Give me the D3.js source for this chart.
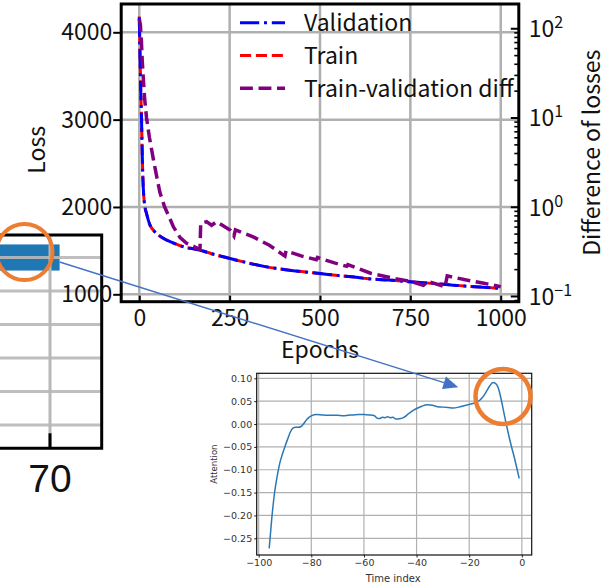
<!DOCTYPE html>
<html><head><meta charset="utf-8">
<script src="https://cdn.jsdelivr.net/npm/d3@7"></script>
<style>body{margin:0;background:#fff}svg{display:block}</style>
</head><body>
<svg id="c" width="611" height="586"></svg>
<script>
// ---------- training curves ----------
const epochs =         [0,    2,    4,    6,    8,    10,   12,   15,   20,   25,   30,   39,   55,   76,   100,  122,  150,  168,  200,  251,  300,  352,  400,  450,  500,  550,  600,  629,  700,  749,  800,  869,  900,  950,  1000];
const validationLoss = [4170, 3750, 3350, 3050, 2650, 2330, 2150, 2020, 1926, 1850, 1790, 1735, 1672, 1620, 1578, 1544, 1520, 1505, 1465, 1410, 1360, 1314, 1285, 1260, 1238, 1215, 1195, 1180, 1160, 1143, 1128, 1105, 1095, 1082, 1068];
const trainLoss =      [4180, 3760, 3355, 3052, 2652, 2331, 2151, 2020, 1926, 1850, 1790, 1735, 1672, 1620, 1578, 1544, 1520, 1505, 1465, 1410, 1360, 1314, 1285, 1260, 1238, 1215, 1195, 1180, 1160, 1143, 1128, 1105, 1095, 1082, 1068];
const diffEpochs = [0,   3,   6,  8,  11, 15, 20, 28, 39,  48,  57,   70,  82,   94,  113,  131,  150,  165,   168,   170,  186,  200,  214,  251,  262,  266,  315,  360,  403,  406,  450,  490,   493,  540,   574,   577,   640,  703,   750,   786,   800,   846,   852,   905,   950,  1000];
const diffValues = [127, 110, 70, 45, 28, 16, 10, 6,  3.4, 2.2, 1.45, 1.0, 0.78, 0.6, 0.45, 0.39, 0.36, 0.335, 0.335, 0.65, 0.68, 0.62, 0.68, 0.55, 0.47, 0.55, 0.46, 0.37, 0.28, 0.32, 0.28, 0.255, 0.27, 0.235, 0.215, 0.225, 0.18, 0.158, 0.146, 0.132, 0.145, 0.127, 0.168, 0.151, 0.14, 0.127];
const lossTicks = [1000, 2000, 3000, 4000];
const epochTicks = [0, 250, 500, 750, 1000];
const diffTicks = [0.1, 1, 10, 100];

// ---------- attention profile ----------
const timeIndex = [-96,-95,-94,-93,-92,-91,-90,-89,-88,-87,-86,-85,-84,-83,-82,-81,-80,-78,-76,-74,-72,-70,-68,-66,-64,-62,-60,-58,-56,-55,-54,-53,-52,-51,-50,-49,-48,-47,-46,-45,-44,-43,-42,-41,-40,-38,-36,-34,-32,-30,-28,-26,-24,-22,-20,-18,-17,-16,-15,-14,-13,-12,-11,-10,-9,-8,-7,-6,-5,-4,-3,-2,-1];
const attention = [-0.272,-0.205,-0.152,-0.115,-0.086,-0.066,-0.049,-0.033,-0.018,-0.009,-0.007,-0.007,-0.006,0.000,0.008,0.014,0.018,0.021,0.020,0.019,0.019,0.019,0.018,0.019,0.020,0.021,0.021,0.020,0.018,0.013,0.012,0.015,0.014,0.016,0.014,0.015,0.011,0.011,0.012,0.014,0.018,0.023,0.027,0.031,0.034,0.039,0.042,0.041,0.038,0.037,0.036,0.035,0.037,0.040,0.043,0.046,0.049,0.052,0.058,0.066,0.076,0.085,0.091,0.089,0.080,0.058,0.030,0.002,-0.024,-0.048,-0.070,-0.094,-0.119];
const attnXTicks = [-100, -80, -60, -40, -20, 0];
const attnYTicks = [0.10, 0.05, 0.00, -0.05, -0.10, -0.15, -0.20, -0.25];

// ---------- ranking bars ----------
const rankRows = [0, 1, 2, 3, 4, 5];
const rankValues = [71.6];
const rankTicks = [70];

const svg = d3.select("#c");
const MAIN_FONT = "'Noto Sans CJK JP','Noto Sans',sans-serif";
const GRID = "#b0b0b0";

// ================= ranking bar panel =================
(function () {
  const L = 0, R = 101.7, T = 235, B = 448.3;
  const xp = d3.scaleLinear([70, 80], [50, 110]);
  const yp = d3.scalePoint(rankRows, [257.5, 425]);
  const step = 33.5;
  const g = svg.append("g");
  g.append("clipPath").attr("id", "pclip").append("rect")
    .attr("x", L).attr("y", T).attr("width", R - L).attr("height", B - T);
  const inner = g.append("g").attr("clip-path", "url(#pclip)");
  inner.selectAll("rect.bar").data(rankValues).join("rect").attr("class", "bar")
    .attr("x", xp(60)).attr("y", (d, i) => yp(rankRows[i]) - step * 0.39)
    .attr("width", d => xp(d) - xp(60)).attr("height", step * 0.78)
    .attr("fill", "#1f77b4");
  inner.selectAll("line.hg").data(rankRows).join("line").attr("class", "hg")
    .attr("x1", L).attr("x2", R).attr("y1", d => yp(d)).attr("y2", d => yp(d))
    .attr("stroke", "#b8b8b8").attr("stroke-width", 3).attr("opacity", 0.9);
  inner.selectAll("line.vg").data(rankTicks).join("line").attr("class", "vg")
    .attr("x1", d => xp(d)).attr("x2", d => xp(d)).attr("y1", T).attr("y2", B)
    .attr("stroke", "#b8b8b8").attr("stroke-width", 3);
  g.selectAll("line.tk").data(rankTicks).join("line").attr("class", "tk")
    .attr("x1", d => xp(d)).attr("x2", d => xp(d)).attr("y1", B - 15).attr("y2", B)
    .attr("stroke", "#000").attr("stroke-width", 3);
  g.append("path").attr("d", `M${L},${T}H${R}V${B}H${L}`)
    .attr("fill", "none").attr("stroke", "#000").attr("stroke-width", 3);
  g.selectAll("text.tl").data(rankTicks).join("text").attr("class", "tl")
    .attr("x", d => xp(d)).attr("y", 491.5).attr("text-anchor", "middle")
    .attr("font-family", "'Liberation Sans',Arial,sans-serif").attr("font-size", 39)
    .attr("fill", "#111").text(d => d);
  // remember bar end for the connector arrow
  svg.node().__barEnd = [xp(rankValues[0]), yp(rankRows[0]) + 4.5];
})();

// ================= loss chart =================
(function () {
  const L = 121.2, R = 518.8, T = 4, B = 301.7;
  const x = d3.scaleLinear([-50, 1050], [L, R]);
  const yL = d3.scaleLinear([915.3, 4324], [B, T]);
  const yR = d3.scaleLog([0.0863, 187], [B, T]);
  const g = svg.append("g").attr("font-family", MAIN_FONT);

  // grid
  g.selectAll("line.xg").data(epochTicks).join("line")
    .attr("x1", d => x(d)).attr("x2", d => x(d)).attr("y1", T).attr("y2", B)
    .attr("stroke", GRID).attr("stroke-width", 2.5);
  g.selectAll("line.yg").data(lossTicks).join("line")
    .attr("y1", d => yL(d)).attr("y2", d => yL(d)).attr("x1", L).attr("x2", R)
    .attr("stroke", GRID).attr("stroke-width", 2.5);

  g.append("clipPath").attr("id", "mclip").append("rect")
    .attr("x", L).attr("y", T).attr("width", R - L).attr("height", B - T);
  const plot = g.append("g").attr("clip-path", "url(#mclip)");

  const lossLine = d3.line().x((d, i) => x(epochs[i])).y(d => yL(d)).curve(d3.curveMonotoneX);
  const diffLine = d3.line().x((d, i) => x(diffEpochs[i])).y(d => yR(d));

  plot.append("path").datum(trainLoss).attr("d", lossLine)
    .attr("fill", "none").attr("stroke", "#ff0000").attr("stroke-width", 3)
    .attr("stroke-dasharray", "11.1,4.8");
  plot.append("path").datum(validationLoss).attr("d", lossLine)
    .attr("fill", "none").attr("stroke", "#0000ff").attr("stroke-width", 3)
    .attr("stroke-dasharray", "19.2,4.8,3,4.8");
  plot.append("path").datum(diffValues).attr("d", diffLine)
    .attr("fill", "none").attr("stroke", "#800080").attr("stroke-width", 3.5)
    .attr("stroke-dasharray", "12.9,5.6");

  // axes
  const ax = g.append("g").attr("transform", `translate(${L},0)`)
    .call(d3.axisLeft(yL).tickValues(lossTicks).tickSize(8).tickPadding(1).tickFormat(d3.format("d")));
  const bx = g.append("g").attr("transform", `translate(0,${B})`)
    .call(d3.axisBottom(x).tickValues(epochTicks).tickSize(-6).tickPadding(8).tickFormat(d3.format("d")));
  const rMinor = [];
  for (let e = -2; e <= 2; e++) for (let m = 2; m <= 9; m++) {
    const v = m * Math.pow(10, e);
    if (v >= yR.domain()[0] && v <= yR.domain()[1]) rMinor.push(v);
  }
  g.append("g").attr("transform", `translate(${R},0)`)
    .call(d3.axisRight(yR).tickValues(rMinor).tickSize(-4.5).tickFormat(""))
    .call(s => s.select(".domain").remove())
    .selectAll("line").attr("stroke-width", 1.6);
  const rx = g.append("g").attr("transform", `translate(${R},0)`)
    .call(d3.axisRight(yR).tickValues(diffTicks).tickSize(-8).tickPadding(10).tickFormat(""));
  [ax, bx, rx].forEach(a => {
    a.select(".domain").remove();
    a.selectAll("line").attr("stroke", "#000").attr("stroke-width", 2);
    a.selectAll("text").attr("font-family", MAIN_FONT).attr("font-size", 23).attr("fill", "#111");
  });
  rx.selectAll(".tick text").each(function (d) {
    const t = d3.select(this).attr("dy", "0.36em");
    t.append("tspan").text("10");
    t.append("tspan").attr("dy", "-0.55em").attr("font-size", 16)
      .text(String(Math.round(Math.log10(d))).replace("-", "\u2212"));
  });

  // frame
  g.append("rect").attr("x", L).attr("y", T).attr("width", R - L).attr("height", B - T)
    .attr("fill", "none").attr("stroke", "#000").attr("stroke-width", 3);

  // axis titles
  g.append("text").attr("x", (L + R) / 2).attr("y", 358).attr("text-anchor", "middle")
    .attr("font-size", 23).attr("fill", "#111").text("Epochs");
  g.append("text").attr("transform", `translate(45,${(T + B) / 2 - 3}) rotate(-90)`)
    .attr("text-anchor", "middle").attr("font-size", 23).attr("fill", "#111").text("Loss");
  g.append("text").attr("transform", `translate(600,${(T + B) / 2}) rotate(-90)`)
    .attr("text-anchor", "middle").attr("font-size", 23).attr("fill", "#111").text("Difference of losses");

  // legend
  const legend = [
    { name: "Validation", color: "#0000ff", dash: "19.2,4.8,3,4.8", w: 3 },
    { name: "Train", color: "#ff0000", dash: "11.1,4.8", w: 3 },
    { name: "Train-validation diff", color: "#800080", dash: "12.9,5.6", w: 3.5 }
  ];
  const lg = g.append("g");
  legend.forEach((d, i) => {
    const yy = 22.7 + i * 32.8;
    lg.append("line").attr("x1", 240).attr("x2", 285).attr("y1", yy).attr("y2", yy)
      .attr("stroke", d.color).attr("stroke-width", d.w).attr("stroke-dasharray", d.dash);
    lg.append("text").attr("x", 304).attr("y", yy).attr("dy", "0.36em")
      .attr("font-size", 23).attr("fill", "#111").text(d.name);
  });
})();

// ================= attention inset =================
(function () {
  const L = 256.7, R = 531.7, T = 373.3, B = 555;
  const xi = d3.scaleLinear([-100.75, 3.75], [L, R]);
  const yi = d3.scaleLinear([-0.2865, 0.111], [B, T]);
  const f = "'DejaVu Sans',sans-serif";
  const g = svg.append("g").attr("font-family", f);
  g.selectAll("line.xg").data(attnXTicks).join("line")
    .attr("x1", d => xi(d)).attr("x2", d => xi(d)).attr("y1", T).attr("y2", B)
    .attr("stroke", GRID).attr("stroke-width", 1.2);
  g.selectAll("line.yg").data(attnYTicks).join("line")
    .attr("y1", d => yi(d)).attr("y2", d => yi(d)).attr("x1", L).attr("x2", R)
    .attr("stroke", GRID).attr("stroke-width", 1.2);
  g.append("path").datum(attention)
    .attr("d", d3.line().x((d, i) => xi(timeIndex[i])).y(d => yi(d)).curve(d3.curveMonotoneX))
    .attr("fill", "none").attr("stroke", "#2a78b5").attr("stroke-width", 1.5);
  const minus = s => s.replace("-", "\u2212");
  const ax = g.append("g").attr("transform", `translate(${L},0)`)
    .call(d3.axisLeft(yi).tickValues(attnYTicks).tickSize(2.5).tickPadding(2).tickFormat(d => minus(d3.format(".2f")(d))));
  const bx = g.append("g").attr("transform", `translate(0,${B})`)
    .call(d3.axisBottom(xi).tickValues(attnXTicks).tickSize(2.5).tickPadding(2).tickFormat(d => minus(String(d))));
  [ax, bx].forEach(a => {
    a.select(".domain").remove();
    a.selectAll("line").attr("stroke", "#222").attr("stroke-width", 1);
    a.selectAll("text").attr("font-family", f).attr("font-size", 9.5).attr("fill", "#333");
  });
  g.append("rect").attr("x", L).attr("y", T).attr("width", R - L).attr("height", B - T)
    .attr("fill", "none").attr("stroke", "#111").attr("stroke-width", 1.2);
  g.append("text").attr("x", (L + R) / 2 - 1).attr("y", 582).attr("text-anchor", "middle")
    .attr("font-size", 10).attr("fill", "#333").text("Time index");
  g.append("text").attr("transform", `translate(217,${(T + B) / 2}) rotate(-90)`)
    .attr("text-anchor", "middle").attr("font-size", 8.5).attr("fill", "#333").text("Attention");
})();

// ================= connector arrow and highlight circles =================
(function () {
  const start = svg.node().__barEnd;
  const tip = [458.3, 387.2];
  const ang = Math.atan2(tip[1] - start[1], tip[0] - start[0]);
  const len = 15, half = 6.5;
  const base = [tip[0] - len * Math.cos(ang), tip[1] - len * Math.sin(ang)];
  svg.append("line").attr("x1", start[0]).attr("y1", start[1]).attr("x2", base[0]).attr("y2", base[1])
    .attr("stroke", "#4472c4").attr("stroke-width", 1.4);
  const px = -Math.sin(ang), py = Math.cos(ang);
  svg.append("path")
    .attr("d", `M${tip[0]},${tip[1]}L${base[0] + half * px},${base[1] + half * py}L${base[0] - half * px},${base[1] - half * py}Z`)
    .attr("fill", "#4472c4");
  svg.append("circle").attr("cx", 24.5).attr("cy", 252).attr("r", 28)
    .attr("fill", "none").attr("stroke", "#ed7d31").attr("stroke-width", 4);
  svg.append("circle").attr("cx", 503).attr("cy", 396.5).attr("r", 27.5)
    .attr("fill", "none").attr("stroke", "#ed7d31").attr("stroke-width", 4.5);
})();
</script>
</body></html>
